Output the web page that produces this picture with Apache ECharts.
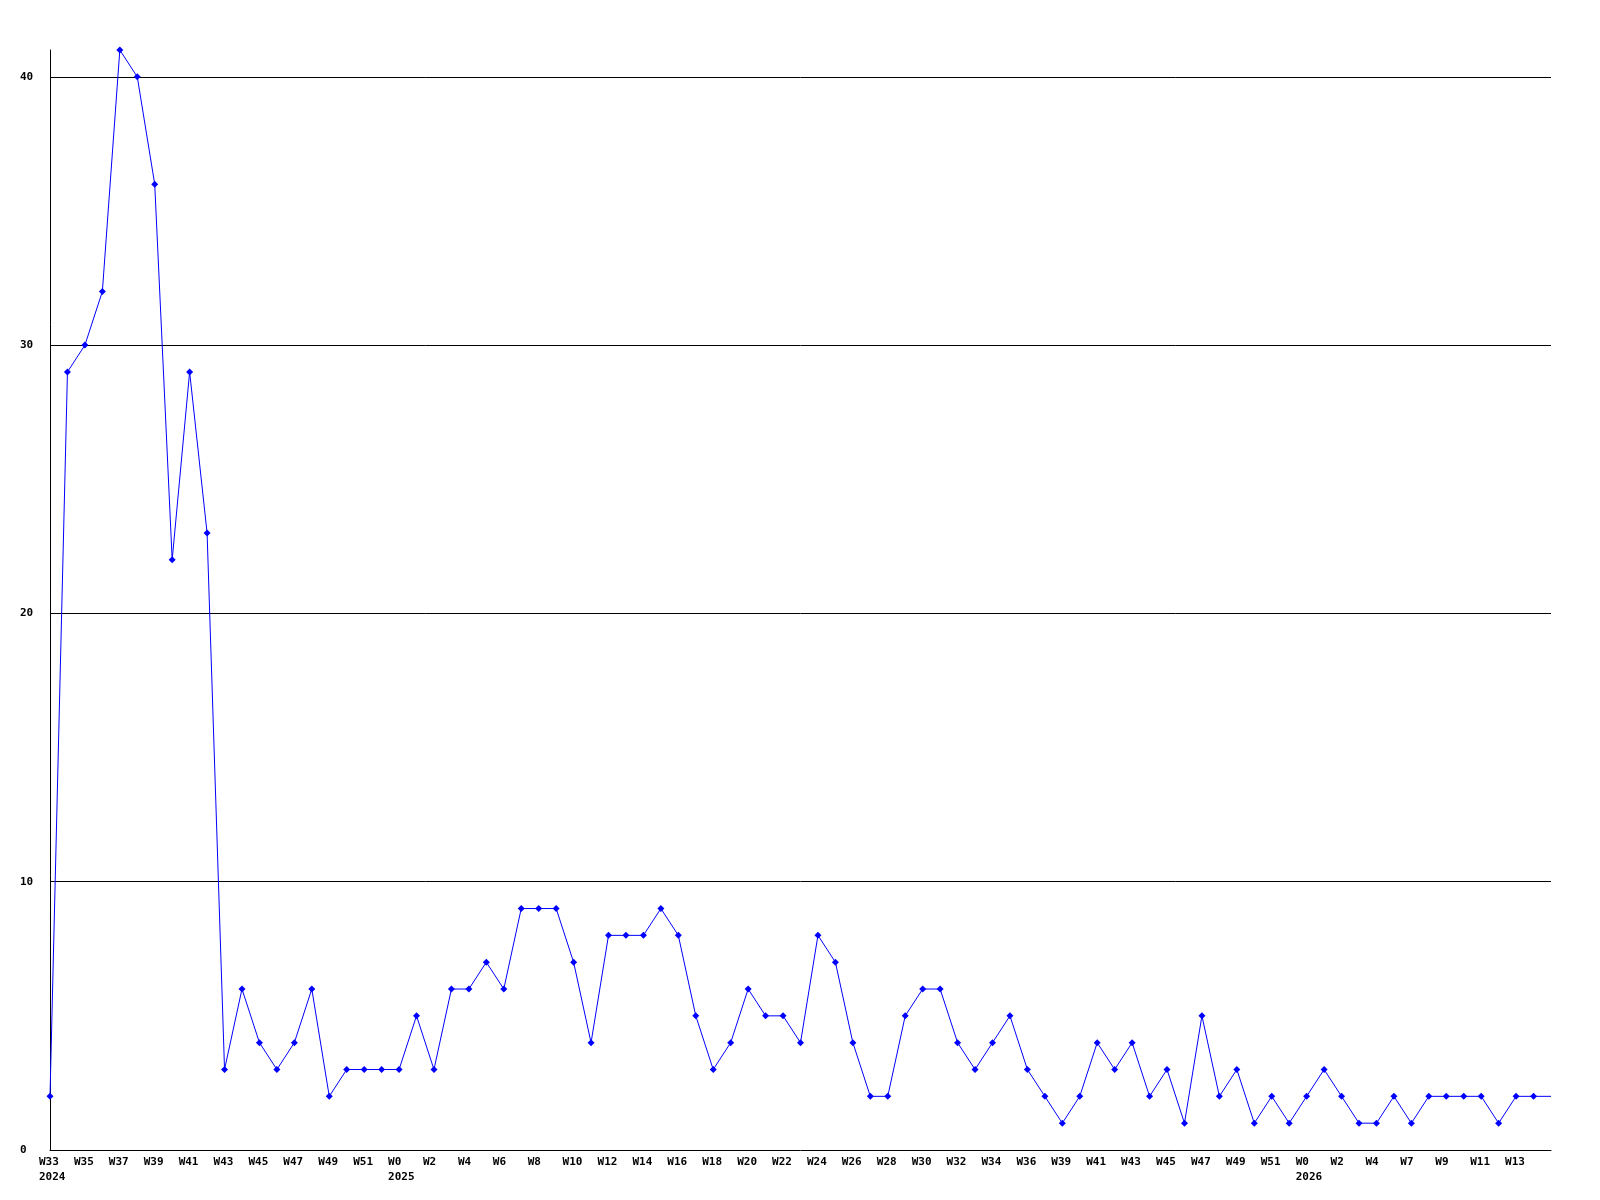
<!DOCTYPE html>
<html>
<head>
<meta charset="utf-8">
<script src="https://cdn.jsdelivr.net/npm/echarts@6/dist/echarts.min.js"></script>
<style>
html,body{margin:0;padding:0;background:#fff;}
#chart{width:1600px;height:1200px;}
</style>
</head>
<body>
<div id="chart"></div>
<script>
// Week categories (every other one is labelled on the axis)
const weeks = [
  'W33','W34','W35','W36','W37','W38','W39','W40','W41','W42',
  'W43','W44','W45','W46','W47','W48','W49','W50','W51','W52',
  'W0','W1','W2','W3','W4','W5','W6','W7','W8','W9',
  'W10','W11','W12','W13','W14','W15','W16','W17','W18','W19',
  'W20','W21','W22','W23','W24','W25','W26','W27','W28','W29',
  'W30','W31','W32','W33','W34','W35','W36','W37','W39','W40',
  'W41','W42','W43','W44','W45','W46','W47','W48','W49','W50',
  'W51','W52','W0','W1','W2','W3','W4','W6','W7','W8',
  'W9','W10','W11','W12','W13','W14','W15'
];
// Year shown under the first week of each year
const yearStartIndex = [0, 20, 72];
const yearStartLabel = ['2024', '2025', '2026'];

const values = [
  2,29,30,32,41,40,36,22,29,23,
  3,6,4,3,4,6,2,3,3,3,
  3,5,3,6,6,7,6,9,9,9,
  7,4,8,8,8,9,8,5,3,4,
  6,5,5,4,8,7,4,2,2,5,
  6,6,4,3,4,5,3,2,1,2,
  4,3,4,2,3,1,5,2,3,1,
  2,1,2,3,2,1,1,2,1,2,
  2,2,2,1,2,2,2
];

const yMin = 0, yMax = 41, yInterval = 10;

const chart = echarts.init(document.getElementById('chart'), null, {renderer: 'canvas'});
const font = 'DejaVu Sans Mono';
const lastIdx = values.length - 1;

chart.setOption({
  animation: false,
  backgroundColor: '#ffffff',
  grid: {left: 50, right: 49, top: 50, bottom: 50, containLabel: false},
  xAxis: {
    type: 'category',
    data: weeks,
    boundaryGap: false,
    axisLine: {show: true, lineStyle: {color: '#000', width: 1}},
    axisTick: {show: false},
    splitLine: {show: false},
    axisLabel: {
      interval: function (i) { return i % 2 === 0 && i < lastIdx; },
      align: 'left',
      verticalAlign: 'top',
      margin: 5,
      padding: [0, 0, 0, -11],
      lineHeight: 15,
      color: '#000',
      fontFamily: font,
      fontWeight: 'bold',
      fontSize: 11,
      formatter: function (val, idx) {
        const k = yearStartIndex.indexOf(idx);
        return k >= 0 ? val + '\n' + yearStartLabel[k] : val;
      }
    }
  },
  yAxis: {
    type: 'value',
    min: yMin,
    max: yMax,
    interval: yInterval,
    axisLine: {show: true, lineStyle: {color: '#000', width: 1}},
    axisTick: {show: false},
    splitLine: {show: true, showMinLine: false, showMaxLine: false, lineStyle: {color: '#000', width: 1}},
    axisLabel: {
      showMaxLabel: false,
      align: 'left',
      margin: 30,
      color: '#000',
      fontFamily: font,
      fontWeight: 'bold',
      fontSize: 11
    }
  },
  series: [{
    type: 'line',
    data: values,
    symbol: function (v, p) { return p.dataIndex === lastIdx ? 'none' : 'diamond'; },
    symbolSize: 7,
    showAllSymbol: true,
    lineStyle: {color: '#0000ff', width: 1},
    itemStyle: {color: '#0000ff'},
    emphasis: {disabled: true}
  }]
});
</script>
</body>
</html>
